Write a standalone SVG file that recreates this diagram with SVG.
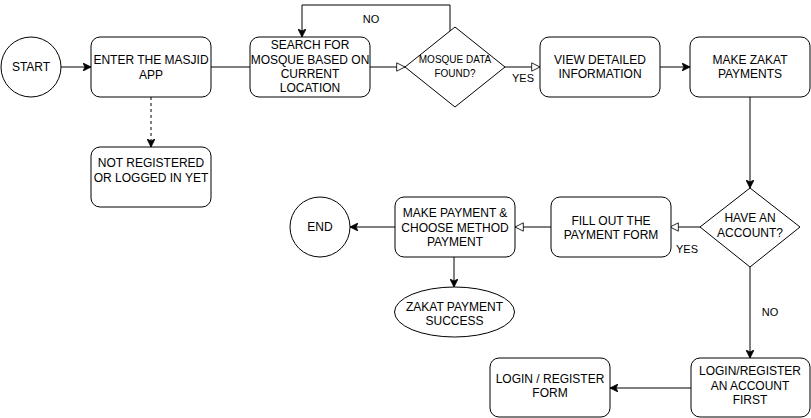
<svg xmlns="http://www.w3.org/2000/svg" width="811" height="418" viewBox="0 0 811 418">
<defs>
<style>
.n{fill:#fff;stroke:#000;stroke-width:1}
.t{font-family:"Liberation Sans",Arial,sans-serif;font-size:12px;fill:#000;text-anchor:middle}
.s{font-family:"Liberation Sans",Arial,sans-serif;font-size:10px;fill:#000;text-anchor:middle}
.l{font-family:"Liberation Sans",Arial,sans-serif;font-size:11px;fill:#000;text-anchor:middle}
.c{fill:none;stroke:#000;stroke-width:1}
.d{stroke-dasharray:3,3}
.fa{marker-end:url(#arrow)}
.oa{marker-end:url(#open)}
</style>
<marker id="arrow" viewBox="0 0 10 10" refX="10" refY="5" markerWidth="8" markerHeight="8" markerUnits="userSpaceOnUse" orient="auto">
<path d="M0,0 L10,5 L0,10 L2.5,5 Z" fill="#000" stroke="#000" stroke-width="1"/>
</marker>
<marker id="open" viewBox="-1 -1 12 12" refX="10" refY="5" markerWidth="10" markerHeight="10" markerUnits="userSpaceOnUse" orient="auto">
<path d="M0,0 L10,5 L0,10 Z" fill="#fff" stroke="#000" stroke-width="1"/>
</marker>
</defs>
<rect width="811" height="418" fill="#fff"/>
<g id="connectors">
<path class="c fa" d="M61,67 L91,67"/>
<path class="c" d="M211,67 L250,67"/>
<path class="c d fa" d="M151,97 L151,147"/>
<path class="c oa" d="M370,67 L405,67"/>
<path class="c fa" d="M450,31 L450,5 L302,5 L302,37"/>
<path class="c oa" d="M504,67 L540,67"/>
<path class="c fa" d="M660,67 L690,67"/>
<path class="c fa" d="M750,97 L750,188"/>
<path class="c oa" d="M700,227 L670,227"/>
<path class="c oa" d="M551,227 L515,227"/>
<path class="c fa" d="M395,227 L350,227"/>
<path class="c fa" d="M454,257 L454,287"/>
<path class="c fa" d="M750,267 L750,358"/>
<path class="c fa" d="M691,388 L610,388"/>
<text class="l" x="371" y="23">NO</text>
<text class="l" x="523" y="82">YES</text>
<text class="l" x="687" y="253">YES</text>
<text class="l" x="770" y="316">NO</text>
</g>
<g id="start">
<circle class="n" cx="31" cy="67" r="30"/>
<text class="t" x="31" y="71">START</text>
</g>
<g id="enter">
<rect class="n" x="91" y="37" width="120" height="60" rx="9"/>
<text class="t" x="151" y="64">ENTER THE MASJID</text>
<text class="t" x="151" y="79">APP</text>
</g>
<g id="notreg">
<rect class="n" x="91" y="147" width="120" height="60" rx="9"/>
<text class="t" x="151" y="167">NOT REGISTERED</text>
<text class="t" x="151" y="182">OR LOGGED IN YET</text>
</g>
<g id="search">
<rect class="n" x="250" y="37" width="120" height="60" rx="9"/>
<text class="t" x="310" y="49">SEARCH FOR</text>
<text class="t" x="310" y="64">MOSQUE BASED ON</text>
<text class="t" x="310" y="78">CURRENT</text>
<text class="t" x="310" y="92">LOCATION</text>
</g>
<g id="found">
<path class="n" d="M455,27 L505,67 L455,107 L405,67 Z"/>
<text class="s" x="455" y="63">MOSQUE DATA</text>
<text class="s" x="455" y="77">FOUND?</text>
</g>
<g id="view">
<rect class="n" x="540" y="37" width="120" height="60" rx="9"/>
<text class="t" x="600" y="64">VIEW DETAILED</text>
<text class="t" x="600" y="78">INFORMATION</text>
</g>
<g id="zakat">
<rect class="n" x="690" y="37" width="120" height="60" rx="9"/>
<text class="t" x="750" y="64">MAKE ZAKAT</text>
<text class="t" x="750" y="78">PAYMENTS</text>
</g>
<g id="account">
<path class="n" d="M750,188 L800,227 L750,267 L700,227 Z"/>
<text class="t" x="750" y="222">HAVE AN</text>
<text class="t" x="750" y="237">ACCOUNT?</text>
</g>
<g id="fill">
<rect class="n" x="551" y="197" width="120" height="60" rx="9"/>
<text class="t" x="611" y="225">FILL OUT THE</text>
<text class="t" x="611" y="239">PAYMENT FORM</text>
</g>
<g id="makepay">
<rect class="n" x="395" y="197" width="120" height="60" rx="9"/>
<text class="t" x="455" y="217">MAKE PAYMENT &amp;</text>
<text class="t" x="455" y="232">CHOOSE METHOD</text>
<text class="t" x="455" y="246">PAYMENT</text>
</g>
<g id="end">
<circle class="n" cx="320" cy="227" r="30"/>
<text class="t" x="320" y="231">END</text>
</g>
<g id="success">
<ellipse class="n" cx="454.5" cy="312" rx="60" ry="25"/>
<text class="t" x="454.5" y="311">ZAKAT PAYMENT</text>
<text class="t" x="454.5" y="325">SUCCESS</text>
</g>
<g id="loginfirst">
<rect class="n" x="691" y="358" width="119" height="59" rx="9"/>
<text class="t" x="750" y="375">LOGIN/REGISTER</text>
<text class="t" x="750" y="390">AN ACCOUNT</text>
<text class="t" x="750" y="404">FIRST</text>
</g>
<g id="loginform">
<rect class="n" x="490" y="358" width="120" height="59" rx="9"/>
<text class="t" x="550" y="383">LOGIN / REGISTER</text>
<text class="t" x="550" y="397">FORM</text>
</g>
</svg>
